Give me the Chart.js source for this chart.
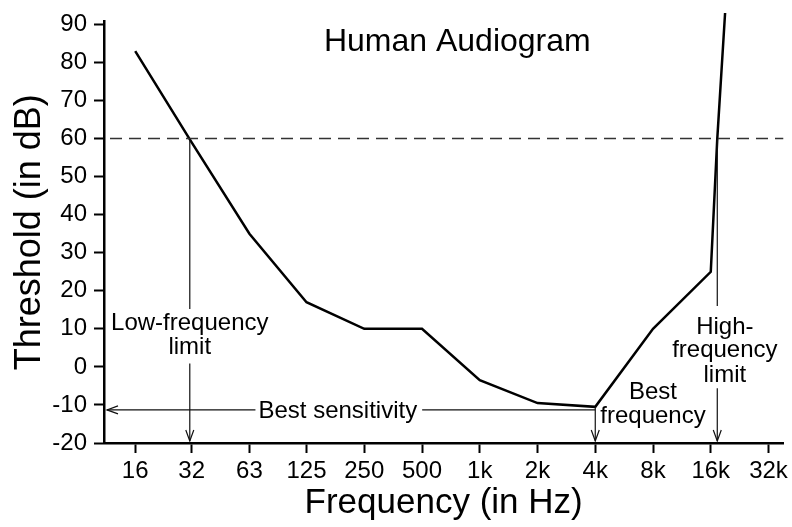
<!DOCTYPE html>
<html><head><meta charset="utf-8">
<script src="https://cdn.jsdelivr.net/npm/chart.js@4"></script>
<style>html,body{margin:0;padding:0;background:#fff;}#wrap{width:792px;height:527px;}</style>
</head><body><div id="wrap"><canvas id="c" width="792" height="527"></canvas></div>
<script>
// ---- data ----
const freqHz       = [16, 31.5, 63, 125, 250, 500, 1000, 2000, 4000, 8000, 16000, 17300, 19000];
const thresholdDb  = [83, 59,   35, 17,  10,  10,  -3.5, -9.5, -10.5, 10,  25,    60,    93];
const xTickHz      = [16, 31.5, 63, 125, 250, 500, 1000, 2000, 4000, 8000, 16000, 32000];
const xTickLabels  = ['16','32','63','125','250','500','1k','2k','4k','8k','16k','32k'];
const yTicks       = [-20, -10, 0, 10, 20, 30, 40, 50, 60, 70, 80, 90];
const limitDb      = 60;      // dashed criterion level
const lowLimitHz   = 30.8;    // low-frequency limit
const highLimitHz  = 17300;   // high-frequency limit
const bestFreqHz   = 4000;    // best frequency
const bestSensDb   = -11.3;   // best sensitivity level

const FONT = "'Liberation Sans', Arial, Helvetica, sans-serif";

function seg(ctx, x1, y1, x2, y2){ ctx.beginPath(); ctx.moveTo(x1,y1); ctx.lineTo(x2,y2); ctx.stroke(); }
function arrowHead(ctx, x, y, dir){ // dir: 'down' or 'left'
  ctx.beginPath();
  if (dir === 'down'){ ctx.moveTo(x-4, y-11); ctx.lineTo(x, y); ctx.lineTo(x+4, y-11); }
  else { ctx.moveTo(x+11, y-4); ctx.lineTo(x, y); ctx.lineTo(x+11, y+4); }
  ctx.stroke();
}

const annot = {
  id: 'annot',
  afterDraw(chart){
    const {ctx, chartArea: a, scales: {x: xs, y: ys}} = chart;
    const X = v => xs.getPixelForValue(v), Y = v => ys.getPixelForValue(v);
    ctx.save();
    // dashed 60 dB line
    ctx.strokeStyle = '#333'; ctx.lineWidth = 1.5; ctx.setLineDash([12, 7]);
    seg(ctx, a.left + 6, Y(limitDb), a.right, Y(limitDb));
    ctx.setLineDash([]);

    ctx.strokeStyle = '#111'; ctx.lineWidth = 1.2;
    ctx.fillStyle = '#000';
    ctx.font = '24px ' + FONT;
    ctx.textAlign = 'center'; ctx.textBaseline = 'alphabetic';
    const tipY = a.bottom - 2;

    // low-frequency limit
    const lx = X(lowLimitHz);
    seg(ctx, lx, Y(limitDb), lx, Y(15.2));
    ctx.fillText('Low-frequency', lx, Y(9.7));
    ctx.fillText('limit', lx, Y(3.4));
    seg(ctx, lx, Y(0.9), lx, tipY); arrowHead(ctx, lx, tipY, 'down');

    // best sensitivity
    const by = Y(bestSensDb), bx = X(bestFreqHz), tipX = a.left + 3;
    const tcx = X(182);
    const tw = ctx.measureText('Best sensitivity').width;
    ctx.textBaseline = 'middle';
    ctx.fillText('Best sensitivity', tcx, by + 1);
    ctx.textBaseline = 'alphabetic';
    seg(ctx, tipX, by, tcx - tw/2 - 3, by);
    seg(ctx, tcx + tw/2 + 5, by, bx, by);
    arrowHead(ctx, tipX, by, 'left');

    // best frequency
    seg(ctx, bx, Y(-10.5), bx, tipY); arrowHead(ctx, bx, tipY, 'down');
    ctx.fillText('Best', X(8000), Y(-8.5));
    ctx.fillText('frequency', X(8000), Y(-14.7));

    // high-frequency limit
    const hx = X(highLimitHz);
    seg(ctx, hx, Y(limitDb), hx, Y(16));
    const htx = X(18940);
    ctx.fillText('High-', htx, Y(8.65));
    ctx.fillText('frequency', htx, Y(2.56));
    ctx.fillText('limit', htx, Y(-3.95));
    seg(ctx, hx, Y(-5.6), hx, tipY); arrowHead(ctx, hx, tipY, 'down');

    // chart title inside plot
    ctx.font = '32px ' + FONT;
    ctx.fillText('Human Audiogram', X(764), Y(82.9));
    ctx.restore();
  }
};

const axisCommon = {
  grid: {drawOnChartArea: false, drawTicks: true, tickLength: 10, tickWidth: 2, tickColor: '#000'},
  border: {display: true, color: '#000', width: 2.5}
};

new Chart(document.getElementById('c').getContext('2d'), {
  type: 'line',
  data: {
    datasets: [{
      label: 'Threshold',
      data: freqHz.map((f, i) => ({x: f, y: thresholdDb[i]})),
      borderColor: '#000', borderWidth: 2.5, pointRadius: 0, tension: 0,
      fill: false, clip: false
    }]
  },
  options: {
    responsive: false, animation: false, devicePixelRatio: 1,
    layout: {padding: {top: 18, right: 6, left: 0, bottom: 0}},
    plugins: {legend: {display: false}, tooltip: {enabled: false}, title: {display: false}},
    scales: {
      x: {
        type: 'logarithmic', min: 11, max: 38200,
        afterBuildTicks: s => { s.ticks = xTickHz.map(v => ({value: v})); },
        afterFit: s => { s.height = 84; },
        ...axisCommon,
        ticks: {autoSkip: false, maxRotation: 0, minRotation: 0, padding: 4, color: '#000',
                font: {family: FONT, size: 24}, callback: (v, i) => xTickLabels[i]},
        title: {display: true, text: 'Frequency (in Hz)', color: '#000',
                font: {family: FONT, size: 35}, padding: {top: 0, bottom: 3}}
      },
      y: {
        type: 'linear', min: -20, max: 90.8,
        afterBuildTicks: s => { s.ticks = yTicks.map(v => ({value: v})); },
        afterFit: s => { s.width = 104; },
        ...axisCommon,
        ticks: {padding: 7, color: '#000', font: {family: FONT, size: 24}, callback: v => String(v)},
        title: {display: true, text: 'Threshold (in dB)', color: '#000',
                font: {family: FONT, size: 36}, padding: {top: 8, bottom: 0}}
      }
    }
  },
  plugins: [annot]
});
</script>
</body></html>
